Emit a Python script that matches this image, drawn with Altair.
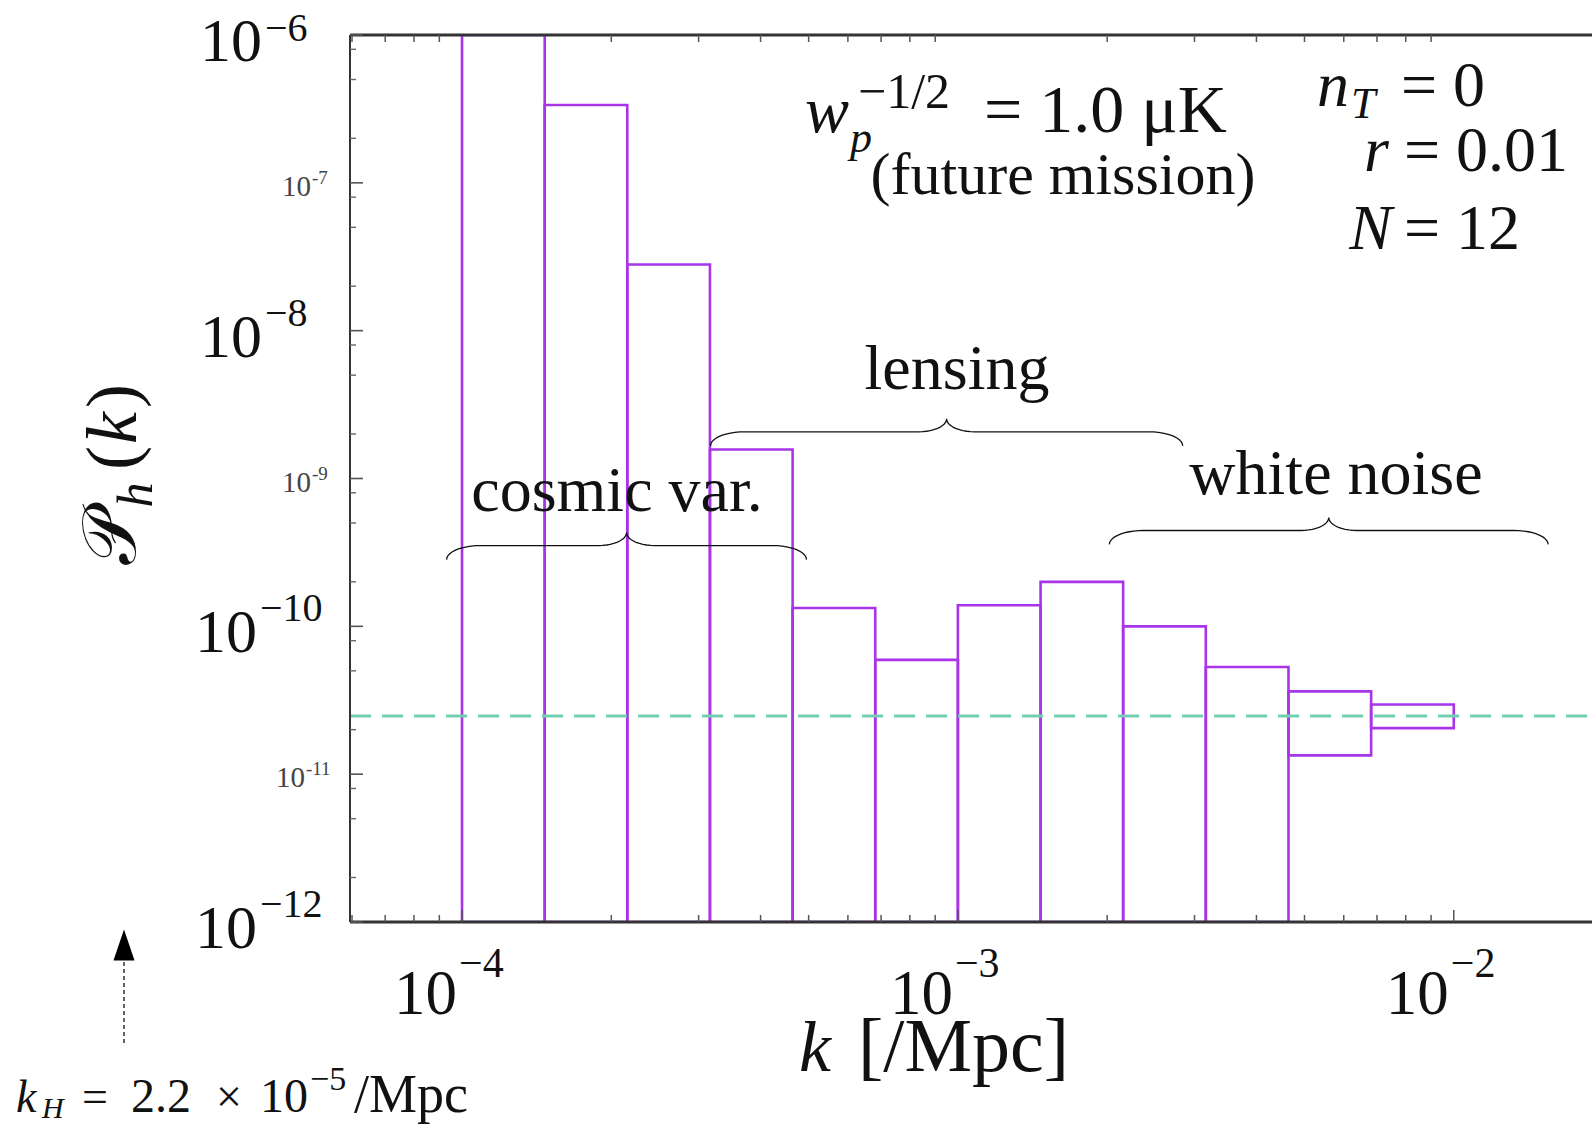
import numpy as np
import pandas as pd
import altair as alt

# ---------------- data ----------------
bin_edges = [1.0e-4, 1.468e-4, 2.154e-4, 3.162e-4, 4.642e-4, 6.813e-4,
             1.0e-3, 1.468e-3, 2.154e-3, 3.162e-3, 4.642e-3, 6.813e-3, 1.0e-2]
upper = [1.0e-6, 3.36e-7, 2.80e-8, 1.57e-9, 1.33e-10, 5.93e-11,
         1.39e-10, 2.00e-10, 1.00e-10, 5.31e-11, 3.63e-11, 2.96e-11]
lower = [1e-12, 1e-12, 1e-12, 1e-12, 1e-12, 1e-12,
         1e-12, 1e-12, 1e-12, 1e-12, 1.34e-11, 2.05e-11]
noise_level = 2.47e-11

x_major = [1e-4, 1e-3, 1e-2]
x_major_exp = ["\u22124", "\u22123", "\u22122"]
x_minor = [m * d for d in [1e-5, 1e-4, 1e-3] for m in [2, 3, 4, 5, 6, 7, 8, 9]] + [2e-2]
y_major = [1e-6, 1e-7, 1e-8, 1e-9, 1e-10, 1e-11, 1e-12]
y_minor = [m * d for d in [1e-12, 1e-11, 1e-10, 1e-9, 1e-8, 1e-7] for m in [2, 5, 8]]
y_big_labels = [1e-6, 1e-8, 1e-10, 1e-12]
y_big_exp = ["\u22126", "\u22128", "\u221210", "\u221212"]
y_small_labels = [1e-7, 1e-9, 1e-11]
y_small_exp = ["-7", "-9", "-11"]

brace_names = ["cosmic", "lensing", "white"]
brace_k0 = [9.31e-5, 3.17e-4, 2.02e-3]
brace_k1 = [4.95e-4, 2.84e-3, 1.55e-2]
brace_level = [3.52e-10, 2.07e-9, 4.45e-10]

# ---------------- layout ----------------
OX, OY = 350, 35
W, H = 1242, 887
XMIN, XMAX = 5.944e-5, 1.9e-2
FONT = "Liberation Serif"
PURPLE = "#a834ea"

xs = alt.Scale(type="log", domain=[XMIN, XMAX], nice=False)
ys = alt.Scale(type="log", domain=[1e-12, 1e-6], nice=False)
px_per_dec_x = W / (np.log10(XMAX) - np.log10(XMIN))
px_per_dec_y = H / 6.0

layers = []

# bars
bars = pd.DataFrame({"k0": bin_edges[:-1], "k1": bin_edges[1:], "lo": lower, "hi": upper})
layers.append(
    alt.Chart(bars).mark_rect(fillOpacity=0, stroke=PURPLE, strokeWidth=2.6, clip=True).encode(
        x=alt.X("k0:Q", scale=xs, axis=None),
        x2="k1:Q",
        y=alt.Y("lo:Q", scale=ys, axis=None),
        y2="hi:Q",
    )
)

# noise level
layers.append(
    alt.Chart(pd.DataFrame({"v": [noise_level]})).mark_rule(
        color="#72cfb2", strokeWidth=3, strokeDash=[21, 11]
    ).encode(y=alt.Y("v:Q", scale=ys, axis=None), x=alt.value(0), x2=alt.value(W))
)

# frame lines (left, top, bottom)
one = pd.DataFrame({"a": [0]})
layers.append(alt.Chart(one).mark_rule(color="#333", strokeWidth=2).encode(
    x=alt.value(0), y=alt.value(0), y2=alt.value(H)))
layers.append(alt.Chart(one).mark_rule(color="#333", strokeWidth=2.8).encode(
    x=alt.value(0), x2=alt.value(W), y=alt.value(0)))
layers.append(alt.Chart(one).mark_rule(color="#333", strokeWidth=3).encode(
    x=alt.value(0), x2=alt.value(W), y=alt.value(H)))

# ticks
def yticks(vals, length, color, width):
    df = pd.DataFrame({"v": vals})
    return alt.Chart(df).mark_rule(color=color, strokeWidth=width).encode(
        y=alt.Y("v:Q", scale=ys, axis=None), x=alt.value(0), x2=alt.value(length))

def xticks(vals, length, color, width, top=False):
    df = pd.DataFrame({"v": vals})
    if top:
        return alt.Chart(df).mark_rule(color=color, strokeWidth=width).encode(
            x=alt.X("v:Q", scale=xs, axis=None), y=alt.value(0), y2=alt.value(length))
    return alt.Chart(df).mark_rule(color=color, strokeWidth=width).encode(
        x=alt.X("v:Q", scale=xs, axis=None), y=alt.value(H), y2=alt.value(H - length))

x_minor_in = [v for v in x_minor if XMIN < v < XMAX]
layers += [
    yticks(y_major, 13, "#555", 1.6),
    yticks(y_minor, 6, "#666", 1.4),
    xticks(x_minor_in, 7, "#555", 1.5),
    xticks(x_major, 12, "#555", 1.5),
    xticks(x_minor_in, 7, "#555", 1.5, top=True),
]

# text helper (pixel coordinates of the full picture)
def T(text, x, y, size, align="left", baseline="alphabetic", italic=False,
      color="#111", angle=0):
    df = pd.DataFrame({"t": [text]})
    kw = dict(font=FONT, fontSize=size, align=align, baseline=baseline,
              fontStyle="italic" if italic else "normal", color=color)
    if angle:
        kw["angle"] = angle
    return alt.Chart(df).mark_text(**kw).encode(
        text="t:N", x=alt.value(x - OX), y=alt.value(y - OY))

def ypix(v):
    return OY + (-6 - np.log10(v)) * px_per_dec_y

# y major labels
for v, e in zip(y_big_labels, y_big_exp):
    yp = ypix(v)
    rx = 262 if v >= 1e-8 else 257
    layers.append(T("10", rx, yp + 26, 62, align="right"))
    layers.append(T(e, rx + 3, yp + (6 if v == 1e-6 else -5), 40))
# y minor labels
for v, e in zip(y_small_labels, y_small_exp):
    yp = ypix(v)
    rx = 311 if v >= 1e-9 else 305
    layers.append(T("10", rx, yp + 13, 29, align="right", color="#444"))
    layers.append(T(e, rx + 1, yp + 1, 19, color="#444"))

# x labels (data positioned)
xl = pd.DataFrame({"v": x_major, "e": x_major_exp, "b": ["10"] * 3})
layers.append(alt.Chart(xl).mark_text(font=FONT, fontSize=63, align="right", dx=-5, color="#111").encode(
    x=alt.X("v:Q", scale=xs, axis=None), y=alt.value(995 - OY), text="b:N"))
layers.append(alt.Chart(xl).mark_text(font=FONT, fontSize=42, align="left", dx=-3, color="#111").encode(
    x=alt.X("v:Q", scale=xs, axis=None), y=alt.value(964 - OY), text="e:N"))

# axis titles
layers.append(T("k", 799, 1071, 72, italic=True))
layers.append(T("[/Mpc]", 858, 1071, 76))
layers.append(T("\U0001D4AB", 112, 537, 76, align="center", baseline="middle", angle=270))
layers.append(T("h", 137, 495, 50, align="center", baseline="middle", italic=True, angle=270))
layers.append(T("(", 114, 458, 72, align="center", baseline="middle", angle=270))
layers.append(T("k", 114, 428, 72, align="center", baseline="middle", italic=True, angle=270))
layers.append(T(")", 114, 396, 72, align="center", baseline="middle", angle=270))

# top annotations
layers.append(T("w", 805, 132, 66, italic=True))
layers.append(T("p", 850, 152, 44, italic=True))
layers.append(T("\u22121/2", 858, 108, 50))
layers.append(T("= 1.0 \u03bcK", 984, 132, 68))
layers.append(T("(future mission)", 1063, 194, 60, align="center"))

layers.append(T("n", 1317, 106, 64, italic=True))
layers.append(T("T", 1351, 118, 44, italic=True))
layers.append(T("= 0", 1401, 106, 64))
layers.append(T("r", 1389, 171, 64, italic=True, align="right"))
layers.append(T("= 0.01", 1404, 171, 64))
layers.append(T("N", 1392, 249, 64, italic=True, align="right"))
layers.append(T("= 12", 1404, 249, 64))

layers.append(T("lensing", 957, 389, 64, align="center"))
layers.append(T("cosmic var.", 617, 511, 64, align="center"))
layers.append(T("white noise", 1336, 494, 64, align="center"))

# braces (shape built from span + level, drawn in data space)
rows = []
tip_px, cusp_px, r_end, r_mid = 14, 13, 34, 28
t = np.linspace(0, np.pi / 2, 12)
for name, k0, k1, lev in zip(brace_names, brace_k0, brace_k1, brace_level):
    a, b = np.log10(k0), np.log10(k1)
    m = 0.5 * (a + b)
    y0 = np.log10(lev)
    dx_e, dx_m = r_end / px_per_dec_x, r_mid / px_per_dec_x
    dy_t, dy_c = tip_px / px_per_dec_y, cusp_px / px_per_dec_y
    pts = []
    pts += [(a + dx_e * (1 - np.cos(s)), y0 - dy_t * (1 - np.sin(s))) for s in t]
    pts += [(m - dx_m + dx_m * np.sin(s), y0 + dy_c * (1 - np.cos(s))) for s in t]
    pts += [(m + dx_m - dx_m * np.sin(s), y0 + dy_c * (1 - np.cos(s))) for s in t[::-1]]
    pts += [(b - dx_e * (1 - np.cos(s)), y0 - dy_t * (1 - np.sin(s))) for s in t[::-1]]
    for i, (lx, ly) in enumerate(pts):
        rows.append({"id": name, "i": i, "x": 10 ** lx, "y": 10 ** ly})
braces = pd.DataFrame(rows)
layers.append(alt.Chart(braces).mark_line(color="#111", strokeWidth=1.3).encode(
    x=alt.X("x:Q", scale=xs, axis=None), y=alt.Y("y:Q", scale=ys, axis=None),
    detail="id:N", order="i:Q"))

# k_H marker below the axis
layers.append(alt.Chart(one).mark_point(
    shape="M -0.68 1 L 0 -1 L 0.68 1 Z", size=961, filled=True, color="#000", opacity=1
).encode(x=alt.value(124 - OX), y=alt.value(945 - OY)))
layers.append(alt.Chart(one).mark_rule(color="#222", strokeWidth=1.4, strokeDash=[4, 3]).encode(
    x=alt.value(124 - OX), y=alt.value(962 - OY), y2=alt.value(1043 - OY)))
layers.append(T("k", 16, 1112, 46, italic=True))
layers.append(T("H", 42, 1118, 30, italic=True))
layers.append(T("=", 82, 1112, 46))
layers.append(T("2.2", 131, 1112, 48))
layers.append(T("\u00d7", 216, 1112, 46))
layers.append(T("10", 260, 1112, 48))
layers.append(T("\u22125", 310, 1090, 34))
layers.append(T("/Mpc", 354, 1112, 54))

chart = alt.layer(*layers).properties(
    width=W, height=H,
    autosize=alt.AutoSizeParams(type="none"),
    padding={"left": OX, "top": OY, "right": 1592 - OX - W, "bottom": 1127 - OY - H},
    background="white",
).configure_view(stroke=None)

chart.save("out.html", embed_options={"renderer": "svg", "actions": False})
